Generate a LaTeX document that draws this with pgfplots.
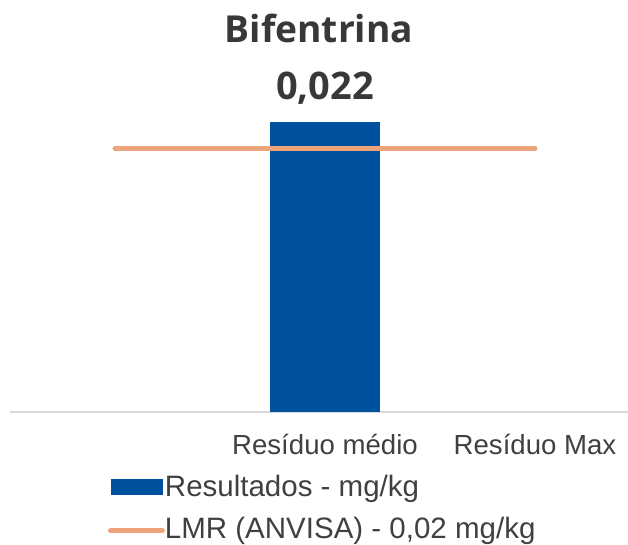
\documentclass[border=0pt]{standalone}
\usepackage{pgfplots}
\pgfplotsset{compat=1.18}
\usepackage{fontspec}
\setmainfont{Liberation Sans}
\newfontfamily\titlefont{Open Sans}
\definecolor{barblue}{RGB}{0,81,157}
\definecolor{lmrorange}{RGB}{237,164,123}
\definecolor{textgray}{RGB}{64,64,64}
\definecolor{titlegray}{RGB}{56,56,56}
\definecolor{basegray}{RGB}{217,217,217}
\begin{document}
\begin{tikzpicture}[x=1pt,y=1pt]
\useasboundingbox (0,0) rectangle (628,544);
\begin{axis}[
  at={(10pt,132pt)}, anchor=south west,
  scale only axis,
  width=618pt, height=329.5pt,
  xmin=-0.5, xmax=2.443,
  ymin=0, ymax=0.025,
  axis y line=none,
  axis x line*=bottom,
  x axis line style={draw=basegray, line width=1.5pt, -},
  xtick={1,2},
  xticklabels={Resíduo médio, Resíduo Max},
  major tick length=0pt,
  xticklabel style={anchor=base, yshift=-42pt, font=\fontsize{27.6}{32}\selectfont, text=textgray},
  title={\titlefont\bfseries Bifentrina},
  title style={at={(0.5,1)}, anchor=base, yshift=33.5pt, font=\fontsize{37.2}{44}\selectfont, text=titlegray},
  clip=false,
  legend style={at={(axis description cs:0.1585,-0.190)}, anchor=north west,
    draw=none, fill=none, inner sep=0pt, outer sep=0pt,
    font=\fontsize{29.5}{34}\selectfont, text=textgray,
    row sep=14pt, column sep=0pt,
    nodes={inner sep=0pt, text height=22pt, text depth=6pt}},
  legend cell align=left,
]
\addplot[ybar, bar width=110pt, fill=barblue, draw=none,
  nodes near coords,
  nodes near coords style={anchor=base, yshift=23pt, font=\titlefont\bfseries\fontsize{38}{44}\selectfont, text=titlegray,
    /pgf/number format/.cd, fixed, fixed zerofill, precision=3, use comma, assume math mode=true},
  legend image code/.code={\fill[barblue] (-2pt,-6pt) rectangle (50pt,10pt);}
] coordinates {(1,0.022)};
\addlegendentry{Resultados - mg/kg}
\addplot[lmrorange, line width=5pt, line cap=round, no marks,
  legend image code/.code={\draw[lmrorange, line width=5pt, line cap=round] (-2.5pt,0pt) -- (49.5pt,0pt);}
] coordinates {(0,0.02) (1,0.02) (2,0.02)};
\addlegendentry{LMR (ANVISA) - 0,02 mg/kg}
\end{axis}
\end{tikzpicture}
\end{document}
